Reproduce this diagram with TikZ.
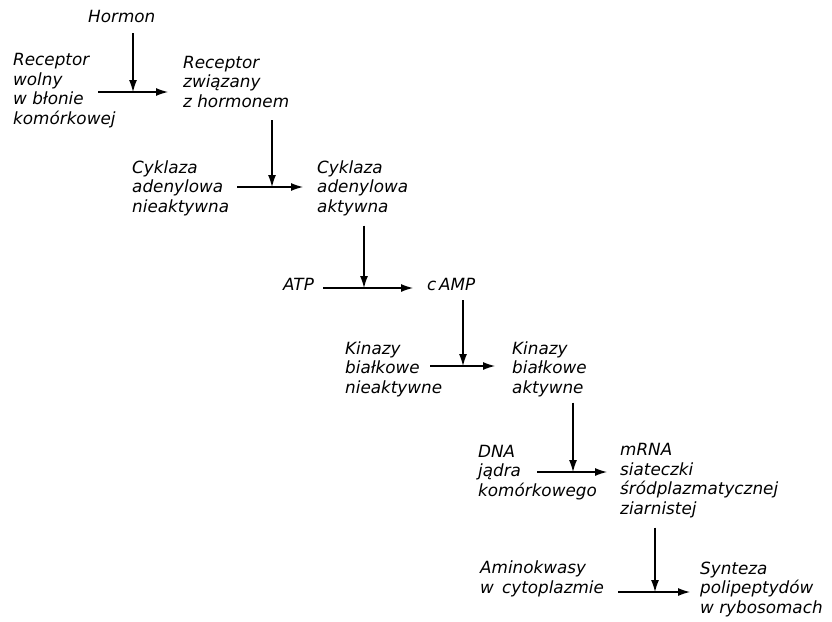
\documentclass[tikz,border=0pt]{standalone}
\usepackage{fontspec}
\setsansfont{DejaVu Sans}
\usetikzlibrary{arrows.meta}
\tikzset{
  % base of a multi-line label = baseline of its last line
  lbl/.style={anchor=base west, align=left, inner sep=0pt,
    font=\fontsize{16.8}{19.5}\selectfont\sffamily\itshape},
  arr/.style={-{Latex[length=12pt,width=8pt]}, line width=1.2pt},
}

\begin{document}
\begin{tikzpicture}[x=1pt, y=-1pt]
\useasboundingbox (0,0) rectangle (832,621);
% receptor
\node[lbl] (hormon) at (88,23) {Hormon};
\node[lbl] (recwolny) at (13,124) {Receptor\\wolny\\w błonie\\komórkowej};
\node[lbl] (reczwiaz) at (183,107) {Receptor\\związany\\z hormonem};
\coordinate (t1) at (98,92);
\coordinate (m1) at (133,92);
\draw[arr, shorten >=15pt] (t1) -- (reczwiaz.west |- t1);
\draw[arr, shorten <=10pt] (hormon.south -| m1) -- (m1);
% cyklaza
\node[lbl] (cykln) at (132,212) {Cyklaza\\adenylowa\\nieaktywna};
\node[lbl] (cykla) at (317,212) {Cyklaza\\adenylowa\\aktywna};
\coordinate (t2) at (237,187);
\coordinate (m2) at (272,187);
\draw[arr, shorten >=14pt] (t2) -- (cykla.west |- t2);
\draw[arr, shorten <=13pt] (reczwiaz.south -| m2) -- (m2);
% ATP -> cAMP
\node[lbl] (atp) at (283,290) {ATP};
\node[lbl] (camp) at (427,290) {c\,AMP};
\coordinate (t3) at (323,288);
\coordinate (m3) at (364,288);
\draw[arr, shorten >=14pt] (t3) -- (camp.west |- t3);
\draw[arr, shorten <=10pt] (cykla.south -| m3) -- (m3);
% kinazy
\node[lbl] (kinn) at (345,393) {Kinazy\\białkowe\\nieaktywne};
\node[lbl] (kina) at (512,393) {Kinazy\\białkowe\\aktywne};
\coordinate (t4) at (430,366);
\coordinate (m4) at (463,366);
\draw[arr, shorten >=17pt] (t4) -- (kina.west |- t4);
\draw[arr, shorten <=10pt] (camp.south -| m4) -- (m4);
% DNA -> mRNA
\node[lbl] (dna) at (478,496) {DNA\\jądra\\komórkowego};
\node[lbl] (mrna) at (620,514) {mRNA\\siateczki\\śródplazmatycznej\\ziarnistej};
\coordinate (t5) at (537,472);
\coordinate (m5) at (573,472);
\draw[arr, shorten >=13pt] (t5) -- (mrna.west |- t5);
\draw[arr, shorten <=6pt] (kina.south -| m5) -- (m5);
% synteza
\node[lbl] (amino) at (480,593) {Aminokwasy\\w\, cytoplazmie};
\node[lbl] (synteza) at (700,613) {Synteza\\polipeptydów\\w rybosomach};
\coordinate (t6) at (618,592);
\coordinate (m6) at (655,592);
\draw[arr, shorten >=10pt] (t6) -- (synteza.west |- t6);
\draw[arr, shorten <=10pt] (mrna.south -| m6) -- (m6);
\end{tikzpicture}
\end{document}
